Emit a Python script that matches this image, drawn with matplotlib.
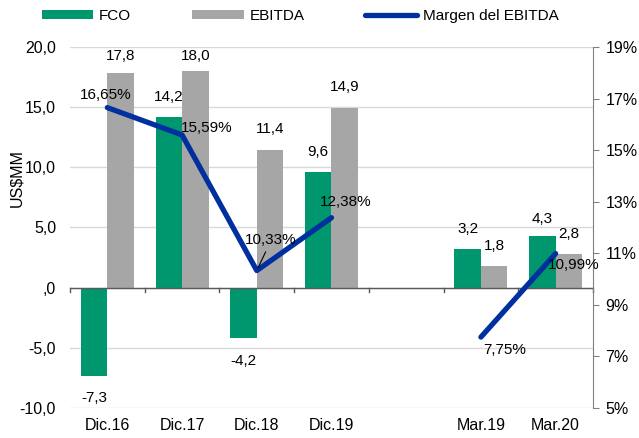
import numpy as np
import matplotlib
import matplotlib.pyplot as plt
from matplotlib.ticker import FuncFormatter

plt.rcParams['font.family'] = ['Liberation Sans', 'DejaVu Sans']
plt.rcParams['font.size'] = 11

# Data (empty slot between Dic.19 and Mar.19)
categories = ['Dic.16', 'Dic.17', 'Dic.18', 'Dic.19', '', 'Mar.19', 'Mar.20']
fco = [-7.3, 14.2, -4.2, 9.6, np.nan, 3.2, 4.3]
ebitda = [17.8, 18.0, 11.4, 14.9, np.nan, 1.8, 2.8]
margen = [16.65, 15.59, 10.33, 12.38, np.nan, 7.75, 10.99]

# label offsets in pixels (labels were hand-placed in the original)
fco_lbl_dy = [-22, 20, -23, 20, 0, 20, 17]
ebitda_lbl_dy = [17, 15, 21, 21, 0, 20, 20]
margen_lbl_off = [(-2, 13), (25, 7), (14, 31), (14, 16), (24, -13), (18, -11)]

green = '#00976F'
gray = '#A6A6A6'
blue = '#0030A0'

def fmt(v):
    return f'{v:.1f}'.replace('.', ',')

fig = plt.figure(figsize=(6.39, 4.38), dpi=100)
ax = fig.add_axes([0.1095, 0.0685, 0.8185, 0.8242])
ax2 = ax.twinx()

x = np.arange(len(categories))
w = 0.355
ax.bar(x - w / 2, fco, w, color=green, label='FCO', zorder=2)
ax.bar(x + w / 2, ebitda, w, color=gray, label='EBITDA', zorder=2)

for i in range(len(categories)):
    if np.isnan(fco[i]):
        continue
    ax.annotate(fmt(fco[i]), (x[i] - w / 2, fco[i]), xytext=(0, fco_lbl_dy[i]),
                textcoords='offset pixels', ha='center', va='center', fontsize=11)
    ax.annotate(fmt(ebitda[i]), (x[i] + w / 2, ebitda[i]), xytext=(0, ebitda_lbl_dy[i]),
                textcoords='offset pixels', ha='center', va='center', fontsize=11)

ax.set_xlim(-0.5, len(categories) - 0.5)
ax.set_ylim(-10, 20)
ax.set_yticks(np.arange(-10, 21, 5))
ax.yaxis.set_major_formatter(FuncFormatter(lambda v, p: ',0' if v == 0 else fmt(v)))
ax.set_ylabel('US$MM', fontsize=11.5, va='center')
ax.yaxis.set_label_coords(-0.101, 0.637)
ax.grid(axis='y', color='#D9D9D9', linewidth=1, zorder=0)
ax.set_axisbelow(True)
ax.axhline(0, color='#595959', linewidth=1, zorder=3)
for s in ['top', 'left', 'right', 'bottom']:
    ax.spines[s].set_visible(False)
ax.tick_params(axis='y', length=0, pad=10, labelsize=11.5)
ax.set_xticks(x)
ax.set_xticklabels(categories)
ax.tick_params(axis='x', length=0, pad=7, labelsize=11.5)
# boundary ticks on zero line
for b in np.arange(-0.5, len(categories), 1.0):
    ax.plot([b, b], [0, -0.33], color='#595959', linewidth=1, zorder=3, clip_on=False)

# margin line
ax2.plot(x, margen, color=blue, linewidth=3.8, solid_capstyle='round', label='Margen del EBITDA', zorder=4)
ax2.set_ylim(5, 19)
ax2.set_yticks(np.arange(5, 20, 2))
ax2.yaxis.set_major_formatter(FuncFormatter(lambda v, p: f'{v:.0f}%'))
for s in ['top', 'left', 'bottom']:
    ax2.spines[s].set_visible(False)
ax2.spines['right'].set_color('#808080')
ax2.tick_params(axis='y', length=4, color='#808080', pad=5, labelsize=11.5)

valid = [i for i in range(len(categories)) if not np.isnan(margen[i])]
for k, i in enumerate(valid):
    dx, dy = margen_lbl_off[k]
    lbl = f'{margen[i]:.2f}%'.replace('.', ',')
    if i == 2:
        ax2.annotate(lbl, (x[i], margen[i]), xytext=(dx, dy), textcoords='offset pixels',
                     ha='center', va='center', fontsize=11, zorder=5,
                     arrowprops=dict(arrowstyle='-', color='black', lw=0.8,
                                     relpos=(0.45, 0.0), shrinkA=2, shrinkB=2))
    else:
        ax2.annotate(lbl, (x[i], margen[i]), xytext=(dx, dy), textcoords='offset pixels',
                     ha='center', va='center', fontsize=11, zorder=5)

h1, l1 = ax.get_legend_handles_labels()
h2, l2 = ax2.get_legend_handles_labels()
fig.legend(h1 + h2, l1 + l2, loc='center left', bbox_to_anchor=(0.065, 1 - 16 / 438), ncol=3,
           frameon=False, fontsize=11, handlelength=3.4, handleheight=0.5,
           columnspacing=4.0, handletextpad=0.35, borderaxespad=0, borderpad=0)

fig.savefig('out.png', dpi=100)
